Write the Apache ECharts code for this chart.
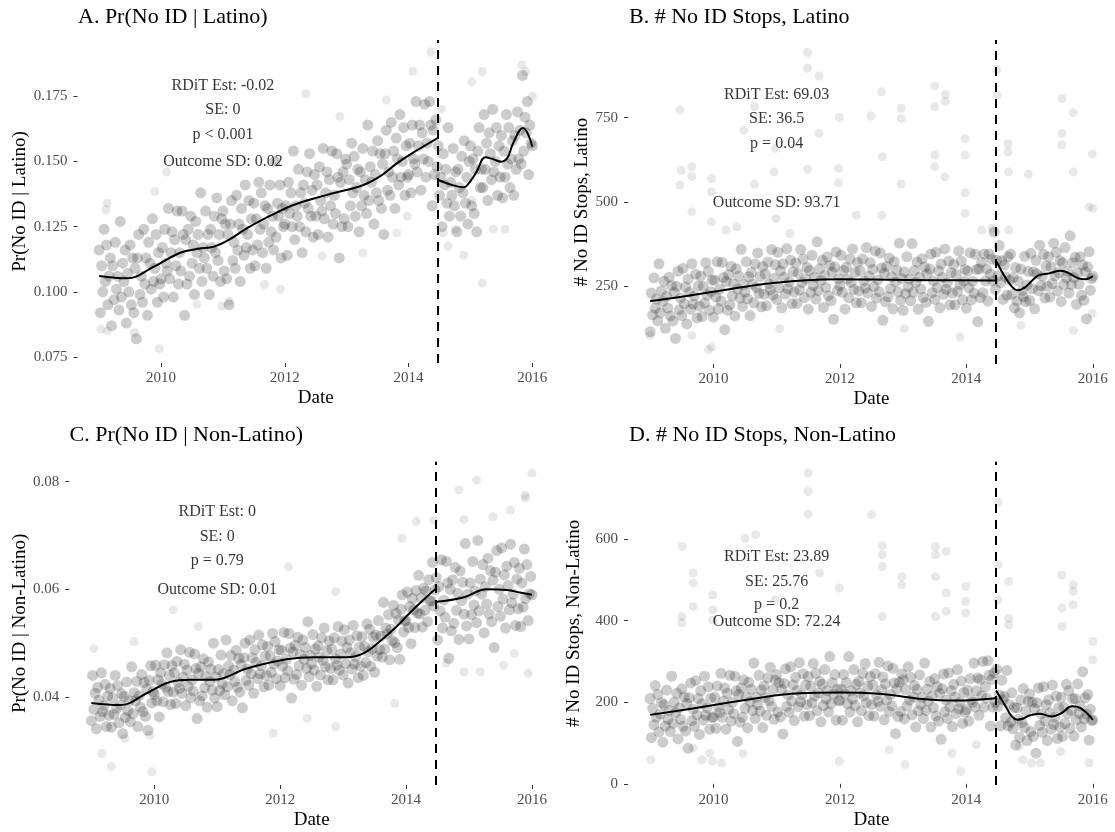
<!DOCTYPE html>
<html>
<head>
<meta charset="utf-8">
<script src="https://cdn.jsdelivr.net/npm/echarts@6/dist/echarts.min.js"></script>
<style>
html, body { margin: 0; padding: 0; background: #fff; }
#chart { width: 1115px; height: 832px; }
</style>
</head>
<body>
<div id="chart"></div>
<script>
var serif = "'Liberation Serif', 'DejaVu Serif', serif";
var cutoff = 2014.47;
var xTicks = [2010, 2012, 2014, 2016];

// sampling dates (fractional years) shared by the four clouds
var dates = [
  2009.00,2009.02,2009.04,2009.06,2009.08,2009.10,2009.12,2009.14,2009.16,2009.18,2009.20,2009.22,2009.24,2009.26,2009.28,2009.30,2009.32,2009.34,2009.36,2009.38,2009.40,2009.42,2009.44,2009.46,2009.48,2009.50,2009.52,2009.54,2009.56,2009.58,2009.60,2009.62,2009.64,2009.66,2009.68,2009.70,2009.72,2009.74,2009.76,2009.78,2009.80,2009.82,2009.84,2009.86,2009.88,2009.90,2009.92,2009.94,2009.96,2009.98,
  2010.00,2010.02,2010.04,2010.06,2010.08,2010.10,2010.12,2010.14,2010.16,2010.18,2010.20,2010.22,2010.24,2010.26,2010.28,2010.30,2010.32,2010.34,2010.36,2010.38,2010.40,2010.42,2010.44,2010.46,2010.48,2010.50,2010.52,2010.54,2010.56,2010.58,2010.60,2010.62,2010.64,2010.66,2010.68,2010.70,2010.72,2010.74,2010.76,2010.78,2010.80,2010.82,2010.84,2010.86,2010.88,2010.90,2010.92,2010.94,2010.96,2010.98,
  2011.00,2011.02,2011.04,2011.06,2011.08,2011.10,2011.12,2011.14,2011.16,2011.18,2011.20,2011.22,2011.24,2011.26,2011.28,2011.30,2011.32,2011.34,2011.36,2011.38,2011.40,2011.42,2011.44,2011.46,2011.48,2011.50,2011.52,2011.54,2011.56,2011.58,2011.60,2011.62,2011.64,2011.66,2011.68,2011.70,2011.72,2011.74,2011.76,2011.78,2011.80,2011.82,2011.84,2011.86,2011.88,2011.90,2011.92,2011.94,2011.96,2011.98,
  2012.00,2012.02,2012.04,2012.06,2012.08,2012.10,2012.12,2012.14,2012.16,2012.18,2012.20,2012.22,2012.24,2012.26,2012.28,2012.30,2012.32,2012.34,2012.36,2012.38,2012.40,2012.42,2012.44,2012.46,2012.48,2012.50,2012.52,2012.54,2012.56,2012.58,2012.60,2012.62,2012.64,2012.66,2012.68,2012.70,2012.72,2012.74,2012.76,2012.78,2012.80,2012.82,2012.84,2012.86,2012.88,2012.90,2012.92,2012.94,2012.96,2012.98,
  2013.00,2013.02,2013.04,2013.06,2013.08,2013.10,2013.12,2013.14,2013.16,2013.18,2013.20,2013.22,2013.24,2013.26,2013.28,2013.30,2013.32,2013.34,2013.36,2013.38,2013.40,2013.42,2013.44,2013.46,2013.48,2013.50,2013.52,2013.54,2013.56,2013.58,2013.60,2013.62,2013.64,2013.66,2013.68,2013.70,2013.72,2013.74,2013.76,2013.78,2013.80,2013.82,2013.84,2013.86,2013.88,2013.90,2013.92,2013.94,2013.96,2013.98,
  2014.00,2014.02,2014.04,2014.06,2014.08,2014.10,2014.12,2014.14,2014.16,2014.18,2014.20,2014.22,2014.24,2014.26,2014.28,2014.30,2014.32,2014.34,2014.36,2014.38,2014.40,2014.42,2014.44,2014.46,2014.48,2014.50,2014.52,2014.54,2014.56,2014.58,2014.60,2014.62,2014.64,2014.66,2014.68,2014.70,2014.72,2014.74,2014.76,2014.78,2014.80,2014.82,2014.84,2014.86,2014.88,2014.90,2014.92,2014.94,2014.96,2014.98,
  2015.00,2015.02,2015.04,2015.06,2015.08,2015.10,2015.12,2015.14,2015.16,2015.18,2015.20,2015.22,2015.24,2015.26,2015.28,2015.30,2015.32,2015.34,2015.36,2015.38,2015.40,2015.42,2015.44,2015.46,2015.48,2015.50,2015.52,2015.54,2015.56,2015.58,2015.60,2015.62,2015.64,2015.66,2015.68,2015.70,2015.72,2015.74,2015.76,2015.78,2015.80,2015.82,2015.84,2015.86,2015.88,2015.90,2015.92,2015.94,2015.96,2015.98,
  2016.00
];

// A. Pr(No ID | Latino)
var prLatino = [
  0.116,0.092,0.110,0.100,0.124,0.104,0.118,0.095,0.106,0.113,0.087,0.110,0.097,0.119,0.101,0.106,0.093,0.127,0.098,0.111,0.104,0.116,0.088,0.107,0.100,0.118,0.095,0.113,0.092,0.109,0.082,0.113,0.122,0.099,0.106,0.096,0.124,0.103,0.113,0.091,0.119,0.111,0.101,0.128,0.104,0.109,0.122,0.096,0.115,0.103,
  0.105,0.117,0.098,0.124,0.111,0.108,0.132,0.105,0.115,0.123,0.098,0.120,0.110,0.131,0.103,0.115,0.108,0.131,0.122,0.091,0.120,0.103,0.124,0.106,0.129,0.111,0.118,0.099,0.127,0.115,0.122,0.109,0.138,0.104,0.117,0.113,0.131,0.109,0.122,0.099,0.124,0.117,0.106,0.129,0.115,0.136,0.112,0.122,0.104,0.128,
  0.131,0.108,0.126,0.105,0.122,0.095,0.126,0.135,0.112,0.119,0.109,0.137,0.116,0.126,0.104,0.132,0.124,0.114,0.141,0.117,0.122,0.135,0.109,0.128,0.116,0.134,0.110,0.128,0.118,0.142,0.124,0.138,0.115,0.126,0.133,0.109,0.132,0.119,0.141,0.123,0.129,0.116,0.150,0.121,0.134,0.129,0.141,0.113,0.132,0.125,
  0.126,0.133,0.114,0.142,0.130,0.138,0.125,0.154,0.120,0.133,0.129,0.147,0.125,0.138,0.115,0.141,0.134,0.123,0.146,0.132,0.153,0.129,0.139,0.121,0.145,0.129,0.141,0.122,0.148,0.135,0.131,0.155,0.128,0.138,0.146,0.121,0.143,0.133,0.154,0.126,0.137,0.130,0.153,0.144,0.113,0.142,0.125,0.146,0.128,0.151,
  0.149,0.125,0.143,0.133,0.157,0.138,0.152,0.129,0.140,0.147,0.123,0.146,0.133,0.155,0.137,0.143,0.130,0.164,0.135,0.148,0.142,0.154,0.126,0.145,0.138,0.158,0.135,0.153,0.132,0.149,0.122,0.153,0.162,0.139,0.146,0.137,0.165,0.144,0.154,0.132,0.159,0.151,0.141,0.168,0.144,0.150,0.163,0.137,0.156,0.144,
  0.145,0.157,0.138,0.164,0.151,0.149,0.173,0.146,0.156,0.164,0.139,0.161,0.151,0.172,0.144,0.157,0.150,0.173,0.164,0.133,0.162,0.145,0.166,0.148,0.156,0.137,0.144,0.125,0.153,0.141,0.147,0.134,0.163,0.129,0.142,0.137,0.155,0.133,0.146,0.123,0.147,0.140,0.129,0.152,0.138,0.158,0.134,0.144,0.126,0.150,
  0.156,0.133,0.151,0.130,0.147,0.123,0.154,0.163,0.140,0.147,0.140,0.168,0.147,0.157,0.135,0.161,0.153,0.143,0.170,0.146,0.150,0.163,0.137,0.156,0.144,0.160,0.136,0.154,0.144,0.168,0.149,0.163,0.140,0.151,0.158,0.137,0.160,0.147,0.169,0.151,0.162,0.149,0.183,0.154,0.167,0.161,0.173,0.145,0.164,0.157,
  0.156
];
var prLatinoOut = [[2009.11,0.1315],[2009.13,0.134],[2009.03,0.0856],[2009.13,0.085],[2009.57,0.0843],[2009.97,0.0782],[2009.9,0.1385],[2010.09,0.146],[2012.34,0.176],[2011.93,0.101],[2014.36,0.192],[2014.07,0.1845],[2015.19,0.1034],[2014.89,0.114],[2015.02,0.135],[2015.83,0.187],[2015.89,0.1845],[2016.0,0.175],[2015.02,0.1806],[2015.19,0.1845],[2014.56,0.1226],[2014.76,0.1239],[2014.64,0.1175],[2015.37,0.124],[2015.56,0.124],[2014.53,0.170],[2013.64,0.1736],[2012.89,0.1673],[2010.98,0.0945],[2010.58,0.0952],[2011.1,0.0964],[2011.67,0.1028],[2012.6,0.1137],[2013.26,0.1149],[2013.81,0.1226],[2013.98,0.129]];
var prLatinoPre = [[2009.0,0.1061],[2009.45,0.1052],[2009.88,0.1096],[2010.31,0.1150],[2010.6,0.1165],[2010.85,0.1173],[2011.1,0.1200],[2011.39,0.1244],[2011.75,0.1290],[2012.14,0.1333],[2012.5,0.1360],[2012.78,0.1378],[2013.27,0.1410],[2013.55,0.1445],[2013.81,0.1493],[2014.15,0.1545],[2014.47,0.1590]];
var prLatinoPost = [[2014.48,0.1429],[2014.7,0.1410],[2014.89,0.1401],[2015.0,0.1425],[2015.1,0.1461],[2015.24,0.1516],[2015.35,0.1510],[2015.5,0.1499],[2015.6,0.1515],[2015.69,0.1570],[2015.85,0.1628],[2015.93,0.1605],[2016.0,0.1557]];
var annoA = ['RDiT Est: -0.02', 'SE: 0', 'p < 0.001', 'Outcome SD: 0.02'];
var annoAY = [0.179, 0.170, 0.1604, 0.1497];

// B. # No ID Stops, Latino
var nLatino = [
  114,229,164,274,184,211,146,316,171,236,204,264,124,219,184,276,161,251,146,231,94,249,294,179,214,162,302,197,247,137,271,231,181,316,196,220,285,155,250,190,279,159,249,199,319,223,293,178,233,268,
  157,267,217,322,182,240,205,320,275,120,263,178,283,193,308,221,256,161,301,241,279,214,359,189,254,232,322,212,277,162,290,255,200,315,245,348,228,278,188,308,226,286,191,321,256,238,358,223,273,313,
  210,350,245,295,185,316,276,226,361,241,262,327,197,292,232,318,198,288,238,358,260,330,215,270,305,181,296,231,341,251,276,211,381,236,301,266,326,186,281,246,336,221,311,206,291,151,306,351,236,271,
  251,341,231,296,181,305,270,215,330,260,360,240,290,200,320,235,295,200,330,265,244,364,229,279,319,189,299,249,354,214,268,233,348,303,148,288,203,308,218,333,242,277,182,322,262,297,232,377,207,272,
  177,292,227,337,247,271,206,376,231,296,261,321,181,276,241,331,216,306,201,286,145,300,345,230,265,210,350,245,295,185,315,275,225,360,240,259,324,194,289,229,314,194,284,234,354,254,324,209,264,299,
  184,294,244,349,209,264,229,344,299,144,300,215,320,230,345,265,300,205,345,285,330,265,410,240,326,280,370,260,325,210,312,277,222,337,267,345,225,275,185,305,205,265,170,300,235,218,338,203,253,293,
  207,347,242,292,182,326,286,236,371,251,279,344,214,309,249,337,217,307,257,377,280,350,235,290,325,204,319,254,364,274,294,229,399,254,319,275,335,195,290,255,337,222,312,207,292,152,307,352,237,272,
  279
];
var nLatinoOut = [[2011.49,944],[2011.49,897],[2011.67,874],[2012.66,827],[2013.5,844],[2013.67,819],[2013.67,798],[2013.5,783],[2012.97,778],[2012.97,748],[2012.49,755],[2011.99,751],[2014.48,892],[2014.49,817],[2009.47,773],[2010.48,713],[2010.65,783],[2010.98,659],[2011.67,703],[2013.98,688],[2013.98,639],[2013.5,639],[2013.5,604],[2012.67,634],[2014.66,672],[2014.66,649],[2014.67,589],[2014.98,582],[2015.51,807],[2015.51,703],[2015.51,669],[2015.69,765],[2015.99,642],[2016.0,480],[2015.69,589],[2009.49,594],[2009.47,550],[2009.66,604],[2009.66,576],[2009.97,569],[2009.97,530],[2009.66,470],[2011.49,597],[2011.98,599],[2011.98,557],[2012.97,553],[2013.66,574],[2013.98,527],[2010.65,552],[2010.96,589],[2009.92,61],[2009.97,68],[2009.0,103],[2009.66,103],[2011.05,123],[2013.9,98],[2013.02,123],[2014.86,133],[2015.69,118],[2015.99,168],[2010.99,450],[2011.21,406],[2012.26,460],[2012.66,460],[2013.98,465],[2014.24,416],[2014.41,421],[2014.67,416],[2015.94,485],[2010.2,416],[2009.97,440],[2010.37,426]];
var nLatinoPre = [[2009.0,205],[2009.5,218],[2010.15,237],[2010.8,256],[2011.47,267],[2012.0,270],[2012.52,269],[2013.57,267],[2014.47,266]];
var nLatinoPost = [[2014.48,321],[2014.6,280],[2014.72,248],[2014.81,237],[2014.92,245],[2015.05,268],[2015.15,282],[2015.3,287],[2015.49,295],[2015.6,290],[2015.78,272],[2015.88,270],[2016.0,279]];
var annoB = ['RDiT Est: 69.03', 'SE: 36.5', 'p = 0.04', 'Outcome SD: 93.71'];
var annoBY = [818, 748, 672, 497];

// C. Pr(No ID | Non-Latino)
var prNonLatino = [
  0.0356,0.0440,0.0377,0.0407,0.0341,0.0418,0.0394,0.0364,0.0445,0.0373,0.0384,0.0423,0.0345,0.0402,0.0366,0.0416,0.0344,0.0398,0.0368,0.0440,0.0379,0.0421,0.0352,0.0385,0.0406,0.0332,0.0401,0.0362,0.0428,0.0374,0.0393,0.0354,0.0456,0.0369,0.0408,0.0393,0.0429,0.0345,0.0402,0.0381,0.0442,0.0373,0.0427,0.0364,0.0415,0.0338,0.0431,0.0458,0.0389,0.0410,
  0.0405,0.0459,0.0393,0.0432,0.0363,0.0445,0.0424,0.0391,0.0460,0.0418,0.0482,0.0410,0.0440,0.0386,0.0458,0.0409,0.0445,0.0388,0.0466,0.0427,0.0416,0.0488,0.0407,0.0437,0.0461,0.0384,0.0450,0.0420,0.0483,0.0399,0.0432,0.0411,0.0480,0.0453,0.0360,0.0444,0.0393,0.0456,0.0402,0.0471,0.0417,0.0438,0.0381,0.0465,0.0429,0.0452,0.0413,0.0500,0.0398,0.0437,
  0.0382,0.0451,0.0412,0.0478,0.0424,0.0443,0.0404,0.0506,0.0419,0.0458,0.0441,0.0477,0.0393,0.0450,0.0429,0.0487,0.0418,0.0472,0.0409,0.0460,0.0380,0.0473,0.0500,0.0431,0.0452,0.0422,0.0506,0.0443,0.0473,0.0407,0.0488,0.0464,0.0434,0.0515,0.0443,0.0458,0.0497,0.0419,0.0476,0.0440,0.0494,0.0422,0.0476,0.0446,0.0518,0.0461,0.0503,0.0434,0.0467,0.0488,
  0.0421,0.0487,0.0457,0.0520,0.0436,0.0470,0.0449,0.0518,0.0491,0.0398,0.0484,0.0433,0.0496,0.0442,0.0511,0.0458,0.0479,0.0422,0.0506,0.0470,0.0492,0.0453,0.0540,0.0438,0.0477,0.0462,0.0516,0.0450,0.0489,0.0420,0.0495,0.0474,0.0441,0.0510,0.0468,0.0528,0.0456,0.0486,0.0432,0.0504,0.0453,0.0489,0.0432,0.0510,0.0471,0.0459,0.0531,0.0450,0.0480,0.0504,
  0.0441,0.0525,0.0462,0.0492,0.0426,0.0506,0.0482,0.0452,0.0533,0.0461,0.0475,0.0514,0.0436,0.0493,0.0457,0.0512,0.0440,0.0494,0.0464,0.0536,0.0484,0.0526,0.0457,0.0490,0.0511,0.0446,0.0515,0.0476,0.0542,0.0488,0.0513,0.0474,0.0576,0.0489,0.0528,0.0517,0.0553,0.0469,0.0526,0.0505,0.0570,0.0501,0.0555,0.0492,0.0543,0.0470,0.0563,0.0590,0.0521,0.0542,
  0.0541,0.0595,0.0529,0.0568,0.0499,0.0583,0.0562,0.0529,0.0598,0.0556,0.0626,0.0554,0.0584,0.0530,0.0602,0.0561,0.0597,0.0540,0.0618,0.0579,0.0578,0.0650,0.0569,0.0599,0.0622,0.0506,0.0605,0.0560,0.0655,0.0528,0.0580,0.0548,0.0652,0.0612,0.0472,0.0600,0.0523,0.0618,0.0537,0.0641,0.0561,0.0593,0.0507,0.0634,0.0579,0.0613,0.0554,0.0685,0.0532,0.0591,
  0.0508,0.0612,0.0553,0.0652,0.0571,0.0597,0.0538,0.0691,0.0560,0.0619,0.0591,0.0646,0.0519,0.0605,0.0573,0.0658,0.0554,0.0635,0.0540,0.0617,0.0492,0.0632,0.0672,0.0568,0.0600,0.0550,0.0677,0.0582,0.0627,0.0528,0.0643,0.0607,0.0562,0.0684,0.0575,0.0591,0.0650,0.0533,0.0619,0.0564,0.0639,0.0531,0.0612,0.0567,0.0675,0.0583,0.0646,0.0542,0.0592,0.0624,
  0.0590
];
var prNonLatinoOut = [[2009.96,0.0261],[2009.32,0.0271],[2009.17,0.0295],[2009.04,0.049],[2009.68,0.0503],[2010.3,0.0562],[2010.7,0.0531],[2012.13,0.0642],[2012.88,0.0596],[2012.88,0.0345],[2011.89,0.0333],[2012.43,0.036],[2013.82,0.0388],[2013.93,0.0695],[2014.16,0.0726],[2014.44,0.0729],[2014.84,0.0785],[2015.12,0.0803],[2016.0,0.0816],[2015.89,0.0775],[2015.9,0.077],[2015.66,0.0747],[2015.38,0.0735],[2014.92,0.073],[2015.94,0.0444],[2014.92,0.0447],[2015.55,0.0459],[2014.64,0.0463],[2015.18,0.0447],[2015.72,0.0481],[2009.93,0.0329],[2009.53,0.0323]];
var prNonLatinoPre = [[2009.0,0.0389],[2009.46,0.0385],[2009.88,0.0407],[2010.25,0.0428],[2010.57,0.0432],[2010.94,0.0432],[2011.47,0.0453],[2012.1,0.0470],[2012.53,0.0474],[2013.06,0.0474],[2013.32,0.0481],[2013.58,0.0503],[2013.85,0.0531],[2014.11,0.0562],[2014.46,0.0600]];
var prNonLatinoPost = [[2014.48,0.0577],[2014.91,0.0585],[2015.28,0.0600],[2015.6,0.0599],[2015.81,0.0594],[2016.0,0.0590]];
var annoC = ['RDiT Est: 0', 'SE: 0', 'p = 0.79', 'Outcome SD: 0.01'];
var annoCY = [0.0744, 0.0698, 0.0654, 0.0599];

// D. # No ID Stops, Non-Latino
var nNonLatino = [
  209,113,185,145,241,163,219,127,171,199,102,194,142,230,158,180,128,264,148,200,174,222,110,186,158,233,141,213,129,197,87,211,247,155,183,141,253,169,209,121,228,196,156,264,168,186,238,134,210,162,
  164,212,136,240,188,175,271,163,203,235,134,222,182,266,154,200,172,264,228,104,219,151,235,163,255,185,213,137,249,201,232,180,296,160,212,194,266,178,230,138,240,212,168,260,204,286,190,230,158,254,
  268,176,248,164,232,122,246,282,190,218,175,287,203,243,155,261,229,189,297,201,218,270,166,242,194,263,167,239,199,295,215,271,179,223,251,152,244,192,280,208,228,176,312,196,248,220,268,156,232,204,
  204,232,156,268,220,248,196,312,176,228,208,280,192,244,152,251,223,179,271,215,295,199,239,167,263,194,242,166,270,218,202,298,190,230,262,157,245,205,289,177,219,191,283,247,123,233,165,249,177,269,
  255,159,231,191,287,205,261,169,213,241,139,231,179,267,195,212,160,296,180,232,203,251,139,215,187,258,166,238,154,222,109,233,269,177,205,160,272,188,228,140,244,212,172,280,184,200,252,148,224,176,
  182,230,154,258,206,200,296,188,228,260,168,256,216,300,188,238,210,302,266,142,256,188,272,200,281,190,218,142,254,206,214,162,278,142,194,151,223,135,187,95,186,158,114,206,150,234,138,178,106,202,
  220,128,200,116,184,75,199,235,143,171,126,238,154,194,106,206,174,134,242,146,163,215,111,187,139,212,116,188,148,244,172,228,136,180,208,117,209,157,245,173,191,139,275,159,211,171,219,107,183,155,
  157
];
var nNonLatinoOut = [[2011.5,762],[2011.5,717],[2011.5,662],[2012.5,660],[2014.5,690],[2009.51,582],[2010.67,611],[2010.5,602],[2012.67,584],[2012.67,562],[2012.67,533],[2013.51,582],[2013.68,570],[2013.51,562],[2012.98,488],[2012.98,508],[2013.51,508],[2013.99,484],[2013.99,447],[2013.99,419],[2013.51,410],[2013.68,468],[2013.68,423],[2009.68,517],[2009.68,492],[2009.68,435],[2009.5,410],[2009.5,395],[2009.99,463],[2009.99,427],[2009.99,402],[2010.98,451],[2011.68,517],[2011.99,480],[2012.67,410],[2014.67,496],[2014.67,406],[2014.67,390],[2015.51,512],[2015.51,431],[2015.51,386],[2015.69,488],[2015.69,472],[2015.69,439],[2016.0,349],[2016.0,304],[2014.5,537],[2014.5,451],[2013.91,30],[2013.03,47],[2011.99,55],[2009.01,59],[2009.82,59],[2009.99,55],[2010.13,51],[2014.89,59],[2015.03,51],[2015.17,51],[2015.94,51],[2014.84,92],[2015.49,79],[2014.16,96],[2013.77,75],[2010.47,75],[2009.68,88],[2012.78,83],[2009.94,75]];
var nNonLatinoPre = [[2009.0,169],[2009.89,190],[2010.68,210],[2011.36,222],[2011.99,224],[2012.62,221],[2013.31,208],[2013.83,204],[2014.46,210]];
var nNonLatinoPost = [[2014.47,229],[2014.62,190],[2014.72,165],[2014.81,157],[2014.9,160],[2014.99,167],[2015.15,172],[2015.36,165],[2015.5,173],[2015.67,190],[2015.8,186],[2016.0,157]];
var annoD = ['RDiT Est: 23.89', 'SE: 25.76', 'p = 0.2', 'Outcome SD: 72.24'];
var annoDY = [557, 496, 439, 398];

var panels = [
  { title: 'A. Pr(No ID | Latino)', titleLeft: 78, titleTop: 6,
    grid: { left: 77.5, top: 40, width: 476.5, height: 323 },
    ymin: 0.0727, ymax: 0.1966, yticks: [0.075, 0.1, 0.125, 0.15, 0.175], dec: 3,
    yname: 'Pr(No ID | Latino)', nameGap: 48,
    vals: prLatino, out: prLatinoOut, pre: prLatinoPre, post: prLatinoPost, anno: annoA, annoY: annoAY },
  { title: 'B. # No ID Stops, Latino', titleLeft: 629, titleTop: 6,
    grid: { left: 628, top: 40, width: 488, height: 324 },
    ymin: 18, ymax: 981, yticks: [250, 500, 750], dec: 0,
    yname: '# No ID Stops, Latino', nameGap: 36,
    vals: nLatino, out: nLatinoOut, pre: nLatinoPre, post: nLatinoPost, anno: annoB, annoY: annoBY },
  { title: 'C. Pr(No ID | Non-Latino)', titleLeft: 69.5, titleTop: 424,
    grid: { left: 69.3, top: 461.7, width: 484.7, height: 323.3 },
    ymin: 0.02365, ymax: 0.08372, yticks: [0.04, 0.06, 0.08], dec: 2,
    yname: 'Pr(No ID | Non-Latino)', nameGap: 40,
    vals: prNonLatino, out: prNonLatinoOut, pre: prNonLatinoPre, post: prNonLatinoPost, anno: annoC, annoY: annoCY },
  { title: 'D. # No ID Stops, Non-Latino', titleLeft: 629, titleTop: 424,
    grid: { left: 628, top: 461.7, width: 488, height: 323.3 },
    ymin: -3, ymax: 790, yticks: [0, 200, 400, 600], dec: 0,
    yname: '# No ID Stops, Non-Latino', nameGap: 44,
    vals: nNonLatino, out: nNonLatinoOut, pre: nNonLatinoPre, post: nNonLatinoPost, anno: annoD, annoY: annoDY }
];

var option = {
  backgroundColor: '#fff',
  animation: false,
  title: [],
  grid: [],
  xAxis: [],
  yAxis: [],
  series: []
};

panels.forEach(function (p, i) {
  option.title.push({
    text: p.title, left: p.titleLeft, top: p.titleTop, padding: 0,
    textStyle: { fontFamily: serif, fontSize: 22, fontWeight: 'normal', color: '#000', lineHeight: 22 }
  });
  option.grid.push(Object.assign({ containLabel: false }, p.grid));
  option.xAxis.push({
    type: 'value', gridIndex: i, min: 2008.65, max: 2016.35,
    name: 'Date', nameLocation: 'middle', nameGap: 26,
    nameTextStyle: { fontFamily: serif, fontSize: 19, color: '#000' },
    axisLine: { show: false }, splitLine: { show: false },
    axisTick: { show: true, length: 4, customValues: xTicks, lineStyle: { color: '#333', width: 1 } },
    axisLabel: { customValues: xTicks, margin: 8, fontFamily: serif, fontSize: 15, color: '#4d4d4d',
      formatter: function (v) { return String(v); } }
  });
  option.yAxis.push({
    type: 'value', gridIndex: i, min: p.ymin, max: p.ymax,
    name: p.yname, nameLocation: 'middle', nameGap: p.nameGap,
    nameTextStyle: { fontFamily: serif, fontSize: 19, color: '#000' },
    axisLine: { show: false }, splitLine: { show: false },
    axisTick: { show: true, length: 4, customValues: p.yticks, lineStyle: { color: '#333', width: 1 } },
    axisLabel: { customValues: p.yticks, margin: 10, fontFamily: serif, fontSize: 15, color: '#4d4d4d',
      formatter: function (v) { return v.toFixed(p.dec); } }
  });

  // daily cloud
  var pts = dates.map(function (d, k) { return [d, p.vals[k]]; });
  option.series.push({
    type: 'scatter', xAxisIndex: i, yAxisIndex: i, data: pts,
    symbolSize: 11, silent: true, emphasis: { disabled: true },
    itemStyle: { color: '#000', opacity: 0.2 },
    markLine: {
      silent: true, symbol: ['none', 'none'], label: { show: false },
      lineStyle: { color: '#000', type: [9, 7], width: 2 },
      data: [{ xAxis: cutoff }]
    }
  });
  // isolated outlying days
  option.series.push({
    type: 'scatter', xAxisIndex: i, yAxisIndex: i, data: p.out,
    symbolSize: 9, silent: true, emphasis: { disabled: true },
    itemStyle: { color: '#000', opacity: 0.09 }
  });
  [p.pre, p.post].forEach(function (seg) {
    option.series.push({
      type: 'line', xAxisIndex: i, yAxisIndex: i, data: seg, smooth: 0.4,
      showSymbol: false, silent: true, z: 5,
      lineStyle: { color: '#000', width: 2 }
    });
  });
  option.series.push({
    type: 'scatter', xAxisIndex: i, yAxisIndex: i, symbolSize: 0, silent: true, z: 6,
    data: p.anno.map(function (t, k) { return { name: t, value: [2011, p.annoY[k]] }; }),
    label: { show: true, position: 'inside', formatter: '{b}',
      fontFamily: serif, fontSize: 16, color: '#000' }
  });
});

var chart = echarts.init(document.getElementById('chart'));
chart.setOption(option);
</script>
</body>
</html>
